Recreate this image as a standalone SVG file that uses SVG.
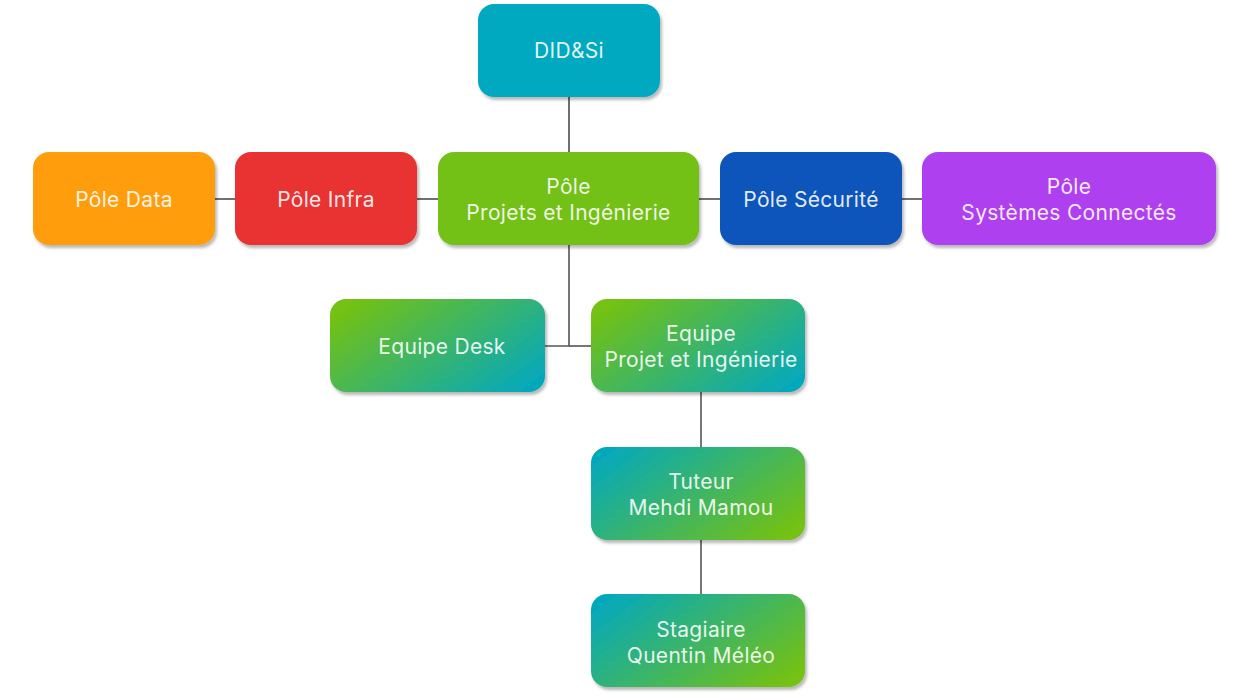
<svg xmlns="http://www.w3.org/2000/svg" width="1239" height="700" viewBox="0 0 1239 700">
<style>
.box{stroke:none;filter:url(#sh)}
.t{font-family:Inter,"Noto Sans",sans-serif;font-size:21px;letter-spacing:0.3px;fill:#fff;fill-opacity:0.9;text-anchor:middle}
.c{stroke:#222;stroke-width:1.3;fill:none}
.c2{stroke:#555;stroke-width:1.6;fill:none}
</style>
<defs>
<filter id="sh" x="-10%" y="-10%" width="125%" height="130%">
<feDropShadow dx="2" dy="3" stdDeviation="1.6" flood-color="#000" flood-opacity="0.28"/>
</filter>
<linearGradient id="g1" x1="0" y1="0.2" x2="1" y2="0.8">
<stop offset="0" stop-color="#74C112"/>
<stop offset="1" stop-color="#06A9BA"/>
</linearGradient>
<linearGradient id="g2" x1="0" y1="0.2" x2="1" y2="0.8">
<stop offset="0" stop-color="#06A9BA"/>
<stop offset="1" stop-color="#74C112"/>
</linearGradient>
</defs>
<rect width="1239" height="700" fill="#fff"/>
<g id="connectors">
<line class="c" x1="569" y1="97" x2="569" y2="152"/>
<line class="c" x1="215" y1="199" x2="235" y2="199"/>
<line class="c" x1="417" y1="199" x2="438" y2="199"/>
<line class="c" x1="699" y1="199" x2="720" y2="199"/>
<line class="c" x1="902" y1="199" x2="922" y2="199"/>
<polyline class="c2" points="569,245 569,346 545,346"/>
<line class="c2" x1="569" y1="346" x2="591" y2="346"/>
<line class="c2" x1="701" y1="392" x2="701" y2="447"/>
<line class="c2" x1="701" y1="540" x2="701" y2="594"/>
</g>
<g id="didsi">
<rect class="box" x="478" y="4" width="182" height="93" rx="16" fill="#03A9BF"/>
<text class="t" x="569" y="58">DID&amp;Si</text>
</g>
<g id="pole-data">
<rect class="box" x="33" y="152" width="182" height="93" rx="16" fill="#FF9D0A"/>
<text class="t" x="124" y="207">Pôle Data</text>
</g>
<g id="pole-infra">
<rect class="box" x="235" y="152" width="182" height="93" rx="16" fill="#E93232"/>
<text class="t" x="326" y="207">Pôle Infra</text>
</g>
<g id="pole-projets">
<rect class="box" x="438" y="152" width="261" height="93" rx="16" fill="#73C012"/>
<text class="t" x="568.5" y="194">Pôle</text>
<text class="t" x="568.5" y="220">Projets et Ingénierie</text>
</g>
<g id="pole-securite">
<rect class="box" x="720" y="152" width="182" height="93" rx="16" fill="#1155BA"/>
<text class="t" x="811" y="207">Pôle Sécurité</text>
</g>
<g id="pole-systemes">
<rect class="box" x="922" y="152" width="294" height="93" rx="16" fill="#AF41F0"/>
<text class="t" x="1069" y="194">Pôle</text>
<text class="t" x="1069" y="220">Systèmes Connectés</text>
</g>
<g id="equipe-desk">
<rect class="box" x="330" y="299" width="215" height="93" rx="16" fill="url(#g1)"/>
<text class="t" x="442" y="354">Equipe Desk</text>
</g>
<g id="equipe-projet">
<rect class="box" x="591" y="299" width="214" height="93" rx="16" fill="url(#g1)"/>
<text class="t" x="701" y="341">Equipe</text>
<text class="t" x="701" y="367">Projet et Ingénierie</text>
</g>
<g id="tuteur">
<rect class="box" x="591" y="447" width="214" height="93" rx="16" fill="url(#g2)"/>
<text class="t" x="701" y="489">Tuteur</text>
<text class="t" x="701" y="515">Mehdi Mamou</text>
</g>
<g id="stagiaire">
<rect class="box" x="591" y="594" width="214" height="93" rx="16" fill="url(#g2)"/>
<text class="t" x="701" y="637">Stagiaire</text>
<text class="t" x="701" y="663">Quentin Méléo</text>
</g>
</svg>
